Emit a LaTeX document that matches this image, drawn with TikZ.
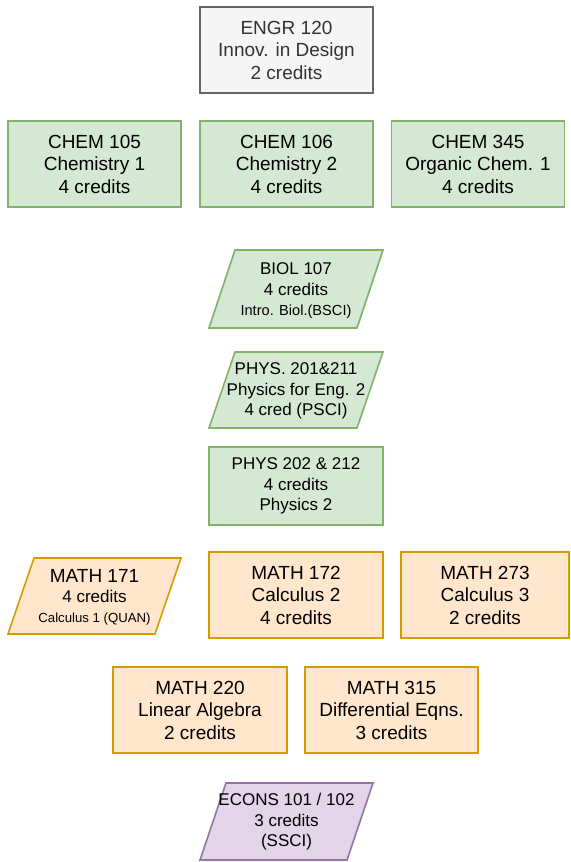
\documentclass[tikz,border=0pt]{standalone}
\usepackage{fontspec}
\setmainfont{Liberation Sans}

\definecolor{greyfill}{HTML}{F5F5F5}
\definecolor{greyline}{HTML}{666666}
\definecolor{greytext}{HTML}{333333}
\definecolor{greenfill}{HTML}{D5E8D4}
\definecolor{greenline}{HTML}{82B366}
\definecolor{orangefill}{HTML}{FFE6CC}
\definecolor{orangeline}{HTML}{D79B00}
\definecolor{purplefill}{HTML}{E1D5E7}
\definecolor{purpleline}{HTML}{9673A6}

\tikzset{
  course/.style={line width=0.8pt, minimum width=86.5pt, minimum height=43pt,
    inner sep=0pt, align=center, font=\fontsize{9.5}{11.25}\selectfont},
  engrbox/.style={course, draw=greyline, fill=greyfill, text=greytext},
  chembox/.style={course, draw=greenline, fill=greenfill},
  mathbox/.style={course, draw=orangeline, fill=orangefill},
  smalltext/.style={align=center, inner sep=0pt, font=\fontsize{8.5}{10.25}\selectfont},
  greenshape/.style={line width=0.8pt, draw=greenline, fill=greenfill},
  orangeshape/.style={line width=0.8pt, draw=orangeline, fill=orangefill},
  purpleshape/.style={line width=0.8pt, draw=purpleline, fill=purplefill},
}

\begin{document}
\begin{tikzpicture}[x=0.5pt,y=-0.5pt]
\useasboundingbox (0,0) rectangle (571,862);
% Design course
\node[engrbox] (engr120) at (286.5,50) {ENGR 120\\Innov. in Design\\2 credits};
% Chemistry row
\node[chembox] (chem105) at (94.5,164) {CHEM 105\\Chemistry 1\\4 credits};
\node[chembox] (chem106) at (286.5,164) {CHEM 106\\Chemistry 2\\4 credits};
\node[chembox] (chem345) at (478,164) {CHEM 345\\Organic Chem. 1\\4 credits};
% Biology (parallelogram)
\draw[greenshape] (209,328) -- (235,250) -- (383,250) -- (357,328) -- cycle;
\node[smalltext] (biol107) at (296,291) {BIOL 107\\4 credits\\{\fontsize{7.3}{9}\selectfont Intro. Biol.(BSCI)}};
% Physics
\draw[greenshape] (209,428) -- (235,352) -- (383,352) -- (357,428) -- cycle;
\node[smalltext] (phys201) at (296,391) {PHYS. 201\&211\\Physics for Eng. 2\\4 cred (PSCI)};
\node[chembox, smalltext, minimum width=87pt, minimum height=39pt] (phys202) at (296,486) {PHYS 202 \& 212\\4 credits\\Physics 2};
% Math row
\draw[orangeshape] (8,634) -- (34,558) -- (181,558) -- (155,634) -- cycle;
\node[course, draw=none, minimum width=0pt, minimum height=0pt, font=\fontsize{9.5}{10}\selectfont] (math171) at (94.5,597) {MATH 171\\{\fontsize{8.5}{10}\selectfont 4 credits}\\{\fontsize{6.6}{10}\selectfont Calculus 1 (QUAN)}};
\node[mathbox, minimum width=87pt] (math172) at (296,595) {MATH 172\\Calculus 2\\4 credits};
\node[mathbox, minimum width=84pt] (math273) at (485,595) {MATH 273\\Calculus 3\\2 credits};
\node[mathbox, minimum width=87pt] (math220) at (200,710) {MATH 220\\Linear Algebra\\2 credits};
\node[mathbox] (math315) at (391.5,710) {MATH 315\\Differential Eqns.\\3 credits};
% Economics (parallelogram)
\draw[purpleshape] (200,860) -- (226,783) -- (373,783) -- (347,860) -- cycle;
\node[smalltext] (econs) at (286.5,822) {ECONS 101 / 102\\3 credits\\(SSCI)};
\end{tikzpicture}
\end{document}
